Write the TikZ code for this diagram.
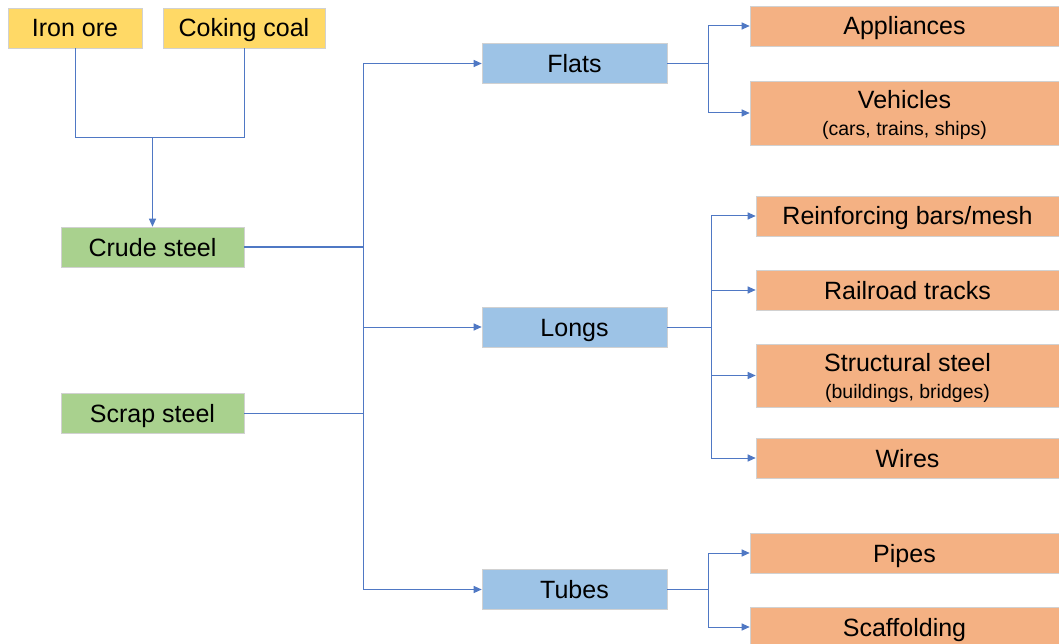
\documentclass[tikz,border=0pt]{standalone}
\usepackage{fontspec}
\setmainfont{Liberation Sans}
\usetikzlibrary{arrows.meta}
\definecolor{cyel}{HTML}{FFD966}
\definecolor{cgrn}{HTML}{A9D18E}
\definecolor{cblu}{HTML}{9DC3E6}
\definecolor{corg}{HTML}{F4B183}
\definecolor{cline}{HTML}{4F78C4}
\begin{document}
\begin{tikzpicture}[x=1pt,y=-1pt,
  box/.style={draw=black!18, line width=0.6pt, inner sep=0pt, align=center,
    font=\fontsize{25}{26}\selectfont},
  one/.style={text height=18pt, text depth=0pt},
  yel/.style={box, one, fill=cyel, minimum height=40pt},
  grn/.style={box, one, fill=cgrn, minimum width=183pt, minimum height=40pt},
  blu/.style={box, one, fill=cblu, minimum width=185pt, minimum height=40pt},
  org/.style={box, fill=corg, minimum height=40pt},
  conn/.style={draw=cline, line width=1pt},
  arr/.style={conn, -{Triangle[length=8pt,width=7pt]}}]
\useasboundingbox (0,0) rectangle (1059,644);
\fill[white] (0,0) rectangle (1059,644);

% sources
\node[yel, minimum width=134pt] (iron) at (75,28) {Iron ore};
\node[yel, minimum width=162pt] (coal) at (244,28) {Coking coal};
\node[grn] (crude) at (152.5,247) {Crude steel};
\node[grn] (scrap) at (152.5,413) {Scrap steel};

% intermediate
\node[blu] (flats) at (574.5,63.5) {Flats};
\node[blu] (longs) at (574.5,327) {Longs};
\node[blu] (tubes) at (574.5,589.5) {Tubes};

% products
\node[org, one, minimum width=309pt] (appl) at (904.5,26) {Appliances};
\node[org, minimum width=309pt, minimum height=64pt, text depth=0pt] (veh) at (904.5,113)
  {Vehicles\\[1pt]{\fontsize{19.5}{20}\selectfont (cars, trains, ships)}};
\node[org, one, minimum width=303pt] (rebar) at (907.5,216) {Reinforcing bars/mesh};
\node[org, one, minimum width=303pt] (rail) at (907.5,290) {Railroad tracks};
\node[org, minimum width=303pt, minimum height=63pt, text depth=0pt] (struct) at (907.5,375.5)
  {Structural steel\\[1pt]{\fontsize{19.5}{20}\selectfont (buildings, bridges)}};
\node[org, one, minimum width=303pt] (wires) at (907.5,458) {Wires};
\node[org, one, minimum width=309pt] (pipes) at (904.5,553) {Pipes};
\node[org, one, minimum width=309pt] (scaf) at (904.5,627) {Scaffolding};

% junctions
\coordinate (j1) at (152.5,138);
\coordinate (t) at (363,0);
\coordinate (tf) at (708,0);
\coordinate (tl) at (711,0);
\coordinate (tt) at (708,0);

% sources to crude steel
\draw[conn] (iron.south) |- (j1);
\draw[conn] (coal.south) |- (j1);
\draw[arr] (j1) -- (crude.north);

% trunk
\draw[conn] (crude.east) -- (crude.east -| t);
\draw[conn] (scrap.east) -- (scrap.east -| t);
\draw[conn] (flats.west -| t) -- (tubes.west -| t);
\draw[arr] (flats.west -| t) -- (flats.west);
\draw[arr] (longs.west -| t) -- (longs.west);
\draw[arr] (tubes.west -| t) -- (tubes.west);

% flats branch
\draw[conn] (flats.east) -- (flats.east -| tf);
\draw[conn] (appl.west -| tf) -- (veh.west -| tf);
\draw[arr] (appl.west -| tf) -- (appl.west);
\draw[arr] (veh.west -| tf) -- (veh.west);

% longs branch
\draw[conn] (longs.east) -- (longs.east -| tl);
\draw[conn] (rebar.west -| tl) -- (wires.west -| tl);
\draw[arr] (rebar.west -| tl) -- (rebar.west);
\draw[arr] (rail.west -| tl) -- (rail.west);
\draw[arr] (struct.west -| tl) -- (struct.west);
\draw[arr] (wires.west -| tl) -- (wires.west);

% tubes branch
\draw[conn] (tubes.east) -- (tubes.east -| tt);
\draw[conn] (pipes.west -| tt) -- (scaf.west -| tt);
\draw[arr] (pipes.west -| tt) -- (pipes.west);
\draw[arr] (scaf.west -| tt) -- (scaf.west);
\end{tikzpicture}
\end{document}
